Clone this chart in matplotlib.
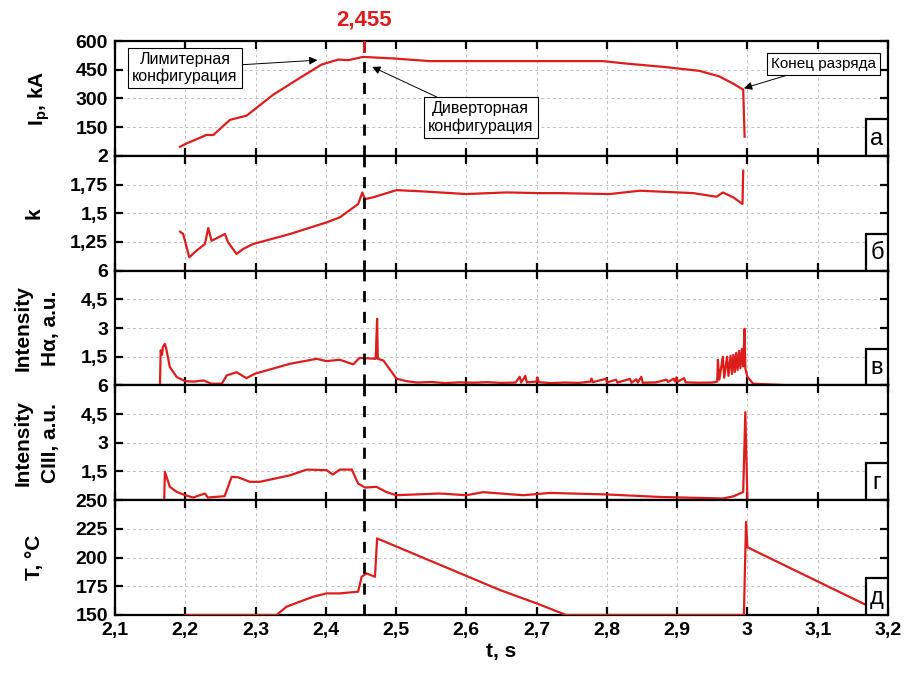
import matplotlib
matplotlib.use("Agg")
import matplotlib.pyplot as plt
from matplotlib.patches import Rectangle
from matplotlib.ticker import FuncFormatter
import matplotlib.transforms as mtransforms

plt.rcParams['font.family'] = ['Liberation Sans', 'DejaVu Sans']

RED = '#dd1c1c'
t_div = 2.455

# --- Ip, kA ---
ip_t = [2.1925, 2.202, 2.215, 2.230, 2.240, 2.2636, 2.2873, 2.325, 2.363, 2.394, 2.4177,
        2.432, 2.453, 2.496, 2.548, 2.648, 2.733, 2.794, 2.828, 2.88, 2.932, 2.96, 2.98,
        2.994, 2.996]
ip_v = [47, 65, 85, 109, 109, 188, 210, 319, 407, 477, 503,
        500, 517, 509, 495, 495, 495, 495, 482, 465, 444, 415, 377,
        346, 100]

# --- k ---
k_t = [2.1925, 2.197, 2.2057, 2.216, 2.228, 2.2327, 2.2374, 2.2565, 2.261, 2.273, 2.2825,
       2.2967, 2.349, 2.401, 2.42, 2.446, 2.452, 2.4556, 2.467, 2.5006, 2.538, 2.6, 2.657,
       2.705, 2.733, 2.804, 2.847, 2.923, 2.956, 2.965, 2.98, 2.993, 2.994]
k_v = [1.339, 1.319, 1.116, 1.174, 1.232, 1.371, 1.26, 1.319, 1.246, 1.145, 1.189,
       1.232, 1.319, 1.42, 1.464, 1.58, 1.681, 1.623, 1.638, 1.701, 1.69, 1.667, 1.681,
       1.675, 1.675, 1.667, 1.696, 1.675, 1.643, 1.681, 1.638, 1.58, 1.87]

# --- H-alpha intensity ---
ha_t = [2.1, 2.164, 2.165, 2.167, 2.168, 2.171, 2.173, 2.178, 2.188, 2.2, 2.213, 2.226,
        2.237, 2.252, 2.259, 2.273, 2.287, 2.299, 2.349, 2.387, 2.401, 2.42, 2.439, 2.448,
        2.471, 2.473, 2.474, 2.482, 2.5006, 2.515, 2.53, 2.55, 2.57, 2.59, 2.61, 2.63,
        2.65, 2.67, 2.676, 2.678, 2.684, 2.686, 2.70, 2.701, 2.703, 2.72, 2.74, 2.76,
        2.777, 2.778, 2.78, 2.799, 2.80, 2.813, 2.815, 2.833, 2.835, 2.842, 2.844, 2.849,
        2.851, 2.87, 2.885, 2.887, 2.895, 2.897, 2.899, 2.901, 2.91, 2.912, 2.93, 2.95,
        2.957, 2.958, 2.960, 2.965, 2.967, 2.971, 2.973, 2.976, 2.978, 2.980, 2.982,
        2.984, 2.986, 2.988, 2.990, 2.992, 2.994, 2.996, 2.997, 3.0, 3.008, 3.062]
ha_v = [0.0, 0.0, 1.83, 1.6, 2.0, 2.17, 1.9, 0.96, 0.43, 0.22, 0.2, 0.26,
        0.09, 0.09, 0.52, 0.69, 0.38, 0.61, 1.13, 1.39, 1.27, 1.34, 1.1, 1.44,
        1.39, 3.48, 1.39, 1.3, 0.35, 0.22, 0.15, 0.18, 0.12, 0.16, 0.14, 0.17,
        0.13, 0.15, 0.45, 0.15, 0.5, 0.16, 0.2, 0.42, 0.17, 0.12, 0.15, 0.13,
        0.2, 0.36, 0.17, 0.35, 0.15, 0.3, 0.15, 0.34, 0.14, 0.32, 0.15, 0.45,
        0.14, 0.16, 0.3, 0.18, 0.35, 0.2, 0.42, 0.2, 0.38, 0.16, 0.14, 0.15,
        0.2, 1.34, 0.3, 1.5, 0.4, 1.5, 0.5, 1.55, 0.6, 1.6, 0.7,
        1.7, 0.8, 1.8, 0.9, 1.9, 1.0, 2.96, 0.9, 0.45, 0.09, 0.0]

# --- CIII intensity ---
c3_t = [2.1, 2.17, 2.171, 2.178, 2.188, 2.2, 2.211, 2.228, 2.232, 2.256, 2.266, 2.275,
        2.292, 2.306, 2.349, 2.373, 2.401, 2.41, 2.42, 2.437, 2.446, 2.456, 2.472, 2.486,
        2.5, 2.562, 2.6, 2.624, 2.681, 2.719, 2.8, 2.875, 2.965, 2.98, 2.994, 2.997,
        3.0, 3.062]
c3_v = [0.0, 0.0, 1.48, 0.7, 0.43, 0.26, 0.14, 0.35, 0.14, 0.21, 1.22, 1.2,
        0.96, 0.96, 1.3, 1.6, 1.57, 1.34, 1.6, 1.6, 0.87, 0.66, 0.7, 0.43,
        0.26, 0.35, 0.26, 0.42, 0.26, 0.38, 0.3, 0.17, 0.09, 0.2, 0.43, 4.6,
        0.0, 0.0]

# --- T, deg C ---
temp_t = [2.2, 2.33, 2.344, 2.363, 2.382, 2.401, 2.42, 2.446, 2.451, 2.458, 2.47, 2.473,
          2.648, 2.70, 2.742, 2.995, 2.998, 3.0, 3.169]
temp_v = [150, 150, 157.2, 161.6, 165.9, 168.8, 168.8, 170.3, 183.3, 186.2, 183.3, 216.7,
          171.7, 160.1, 150, 150, 231, 209, 158.7]

series = [(ip_t, ip_v), (k_t, k_v), (ha_t, ha_v), (c3_t, c3_v), (temp_t, temp_v)]
ylims = [(0, 600), (1, 2), (0, 6), (0, 6), (150, 250)]
yticks = [[150, 300, 450, 600], [1.25, 1.5, 1.75, 2], [1.5, 3, 4.5, 6],
          [1.5, 3, 4.5, 6], [150, 175, 200, 225, 250]]
ylabels = ['I$_\\mathregular{p}$, kA', 'k', 'Intensity\nHα, a.u.', 'Intensity\nCIII, a.u.', 'T, °C']
label_x = [-0.082, -0.092, -0.071, -0.071, -0.092]
letters = ['а', 'б', 'в', 'г', 'д']
xticks = [2.1, 2.2, 2.3, 2.4, 2.5, 2.6, 2.7, 2.8, 2.9, 3.0, 3.1, 3.2]


def comma_fmt(v, pos):
    s = ('%g' % v)
    return s.replace('.', ',')


fig, axes = plt.subplots(5, 1, sharex=True, figsize=(9.07, 6.77), dpi=100,
                         gridspec_kw=dict(hspace=0))
fig.subplots_adjust(left=0.1268, right=0.979, bottom=0.0916, top=0.9394)

for i, ax in enumerate(axes):
    t, v = series[i]
    ax.plot(t, v, color=RED, lw=1.6, zorder=3)
    ax.set_xlim(2.1, 3.2)
    ax.set_ylim(*ylims[i])
    ax.set_yticks(yticks[i])
    ax.set_xticks(xticks)
    ax.yaxis.set_major_formatter(FuncFormatter(comma_fmt))
    ax.xaxis.set_major_formatter(FuncFormatter(comma_fmt))
    ax.grid(True, ls=(0, (3, 3)), color='#c0c0c0', lw=0.7)
    ax.tick_params(direction='in', top=True, right=True, length=6, width=1.6,
                   labelsize=14, pad=5)
    for lab in ax.get_yticklabels() + ax.get_xticklabels():
        lab.set_fontweight('bold')
    for sp in ax.spines.values():
        sp.set_linewidth(1.6)
    ax.set_ylabel(ylabels[i], fontsize=15, fontweight='bold', linespacing=1.6)
    ax.yaxis.set_label_coords(label_x[i], 0.5)
    ax.axvline(t_div, color='black', lw=2, ls=(0, (4, 3.5)), zorder=4)
    # panel letter box
    ax.add_patch(Rectangle((0.9715, 0), 0.0285, 0.32, transform=ax.transAxes,
                           fc='white', ec='black', lw=1.6, zorder=5))
    ax.text(0.9857, 0.15, letters[i], transform=ax.transAxes, ha='center', va='center',
            fontsize=17, zorder=6)

axes[-1].set_xlabel('t, s', fontsize=15, fontweight='bold', labelpad=2)

ax0 = axes[0]
trans = mtransforms.blended_transform_factory(ax0.transData, ax0.transAxes)
ax0.plot([t_div, t_div], [0.91, 1.0], color=RED, lw=2, transform=trans, zorder=5)
ax0.text(t_div, 1.09, '2,455', transform=trans, ha='center', va='bottom',
         color=RED, fontsize=16, fontweight='bold')

box = dict(boxstyle='square,pad=0.25', fc='white', ec='black', lw=0.8)
arrow = dict(arrowstyle='-|>', color='black', lw=0.7, mutation_scale=12, shrinkA=0, shrinkB=0)
ax0.annotate('Лимитерная\nконфигурация', xy=(2.388, 500), xytext=(2.1996, 458),
             ha='center', va='center', fontsize=11.5, bbox=box, arrowprops=arrow,
             linespacing=1.15, zorder=6)
ax0.annotate('Диверторная\nконфигурация', xy=(2.466, 465), xytext=(2.6206, 200),
             ha='center', va='center', fontsize=11.5, bbox=box, arrowprops=arrow,
             linespacing=1.15, zorder=6)
ax0.annotate('Конец разряда', xy=(2.995, 353), xytext=(3.108, 479),
             ha='center', va='center', fontsize=11, bbox=box, arrowprops=arrow, zorder=6)

fig.savefig('out.png', dpi=100)
